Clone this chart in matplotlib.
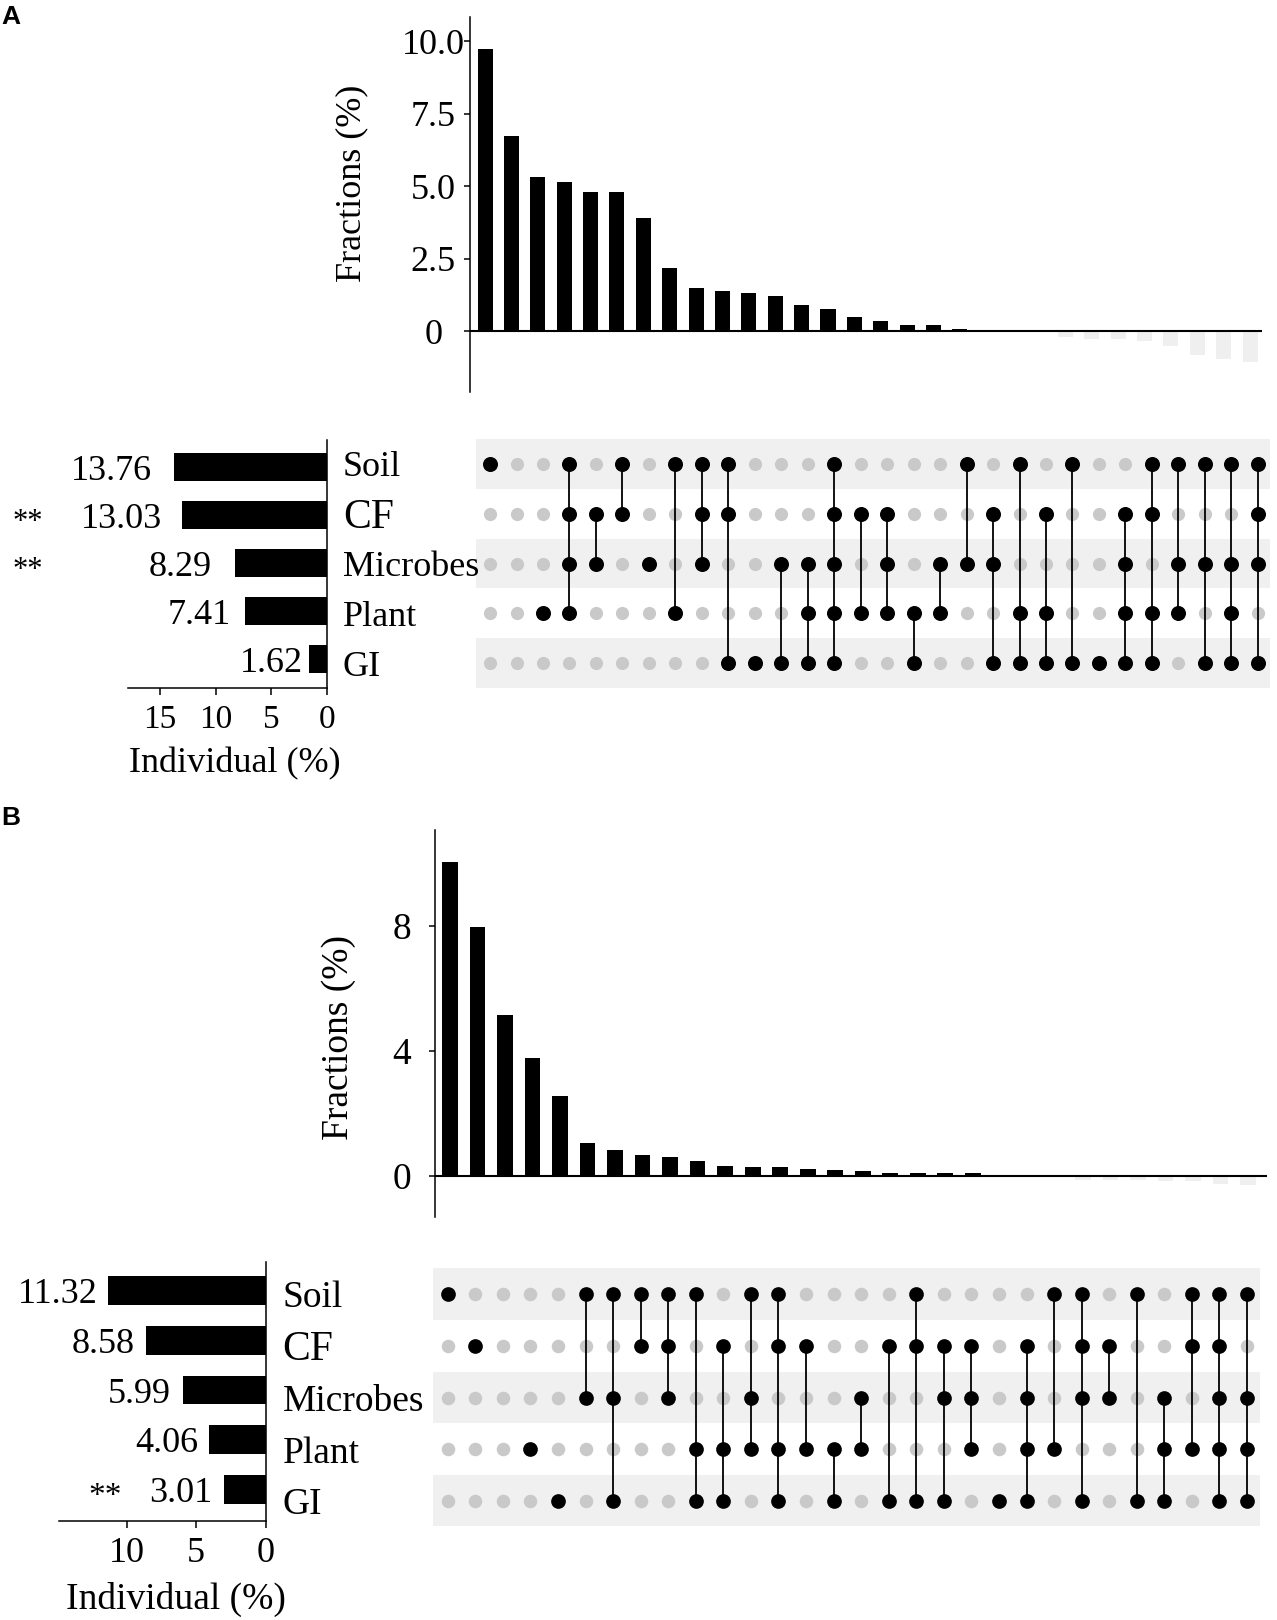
import numpy as np
import matplotlib
matplotlib.use("Agg")
import matplotlib.pyplot as plt
from matplotlib.transforms import blended_transform_factory

plt.rcParams['font.family'] = ['Liberation Serif', 'DejaVu Serif']

# ---- data -------------------------------------------------------------
sets = ["Soil", "CF", "Microbes", "Plant", "GI"]

# panel A
a_individual = [13.76, 13.03, 8.29, 7.41, 1.62]
a_signif = ["", "**", "**", "", ""]
a_fractions = [9.71, 6.71, 5.31, 5.13, 4.79, 4.79, 3.91, 2.17, 1.47, 1.37,
               1.32, 1.20, 0.91, 0.76, 0.48, 0.34, 0.22, 0.22, 0.06, 0.0,
               0.0, 0.0, -0.21, -0.26, -0.26, -0.34, -0.53, -0.84, -0.95, -1.05]
a_combos = ["Soil", "", "Plant", "Soil CF Microbes Plant", "CF Microbes",
            "Soil CF", "Microbes", "Soil Plant", "Soil CF Microbes", "Soil CF GI",
            "GI", "Microbes GI", "Microbes Plant GI", "Soil CF Microbes Plant GI",
            "CF Plant", "CF Microbes Plant", "Plant GI", "Microbes Plant",
            "Soil Microbes", "CF Microbes GI", "Soil Plant GI", "CF Plant GI",
            "Soil GI", "GI", "CF Microbes Plant GI", "Soil CF Plant GI",
            "Soil Microbes Plant", "Soil Microbes GI", "Soil Microbes Plant GI",
            "Soil CF Microbes GI"]

# panel B
b_individual = [11.32, 8.58, 5.99, 4.06, 3.01]
b_signif = ["", "", "", "", "**"]
b_fractions = [10.06, 7.98, 5.17, 3.78, 2.55, 1.06, 0.83, 0.69, 0.61, 0.47,
               0.33, 0.29, 0.29, 0.24, 0.20, 0.15, 0.11, 0.11, 0.10, 0.09,
               0.04, 0.0, 0.0, -0.11, -0.11, -0.14, -0.16, -0.16, -0.25, -0.30]
b_combos = ["Soil", "CF", "", "Plant", "GI", "Soil Microbes", "Soil Microbes GI",
            "Soil CF", "Soil CF Microbes", "Soil Plant GI", "CF Plant GI",
            "Soil Microbes Plant", "Soil CF Plant GI", "CF Plant", "Plant GI",
            "Microbes Plant", "CF GI", "Soil CF GI", "CF Microbes GI",
            "CF Microbes Plant", "GI", "CF Microbes Plant GI", "Soil Plant",
            "Soil CF Microbes GI", "CF Microbes", "Soil GI", "Microbes Plant GI",
            "Soil CF Plant", "Soil CF Microbes Plant GI", "Soil Microbes Plant GI"]

# ---- figure -----------------------------------------------------------
W, H = 1277, 1620
fig = plt.figure(figsize=(W / 100, H / 100), dpi=100)


def px_axes(left, top, right, bottom):
    return fig.add_axes([left / W, 1 - bottom / H, (right - left) / W, (bottom - top) / H])


def draw_fractions(ax, values, ticks, ticklabels, xlim, ylim, fs, pad, ylab_xy, ylab_fs):
    x = np.arange(len(values))
    colors = ["black" if v >= 0 else "#efefef" for v in values]
    ax.bar(x, values, width=0.57, color=colors, linewidth=0, zorder=1)
    ax.axhline(0, color="black", lw=1.5, zorder=2)
    ax.set_xlim(xlim)
    ax.set_ylim(ylim)
    for s in ["top", "right", "bottom"]:
        ax.spines[s].set_visible(False)
    ax.spines["left"].set_linewidth(1.1)
    ax.set_xticks([])
    ax.set_yticks(ticks)
    ax.set_yticklabels(ticklabels)
    ax.tick_params(axis="y", length=4.5, width=1.1, pad=pad, labelsize=fs)
    for t in ax.get_yticklabels():
        t.set_ha("center")
    ax.text(ylab_xy[0], ylab_xy[1], "Fractions (%)", transform=ax.transAxes,
            rotation=90, ha="center", va="center", fontsize=ylab_fs)


def draw_matrix(ax, combos, xlim, ylim, s_on, s_off):
    ncol = len(combos)
    member = np.array([[name in c.split() for c in combos] for name in sets])
    for r in range(len(sets)):
        if r % 2 == 0:
            ax.axhspan(r - 0.5, r + 0.5, color="#f0f0f0", lw=0, zorder=0)
    cols, rows = np.meshgrid(np.arange(ncol), np.arange(len(sets)))
    ax.scatter(cols[~member], rows[~member], s=s_off, color="#c9c9c9", lw=0, zorder=1)
    for c in range(ncol):
        active = np.where(member[:, c])[0]
        if len(active) > 1:
            ax.plot([c, c], [active.min(), active.max()], color="black", lw=1.3, zorder=2)
    ax.scatter(cols[member], rows[member], s=s_on, color="black", lw=0, zorder=3)
    ax.set_xlim(xlim)
    ax.set_ylim(ylim)
    ax.axis("off")


def draw_individual(ax, values, signif, gaps, xlim, ylim, ticks, tick_fs, tick_pad,
                    val_fs, star_x, star_fs, xlab_xy, xlab_fs):
    y = np.arange(len(values))
    ax.barh(y, values, height=0.58, color="black", lw=0)
    ax.set_xlim(xlim)
    ax.set_ylim(ylim)
    for s in ["top", "left"]:
        ax.spines[s].set_visible(False)
    for s in ["right", "bottom"]:
        ax.spines[s].set_linewidth(1.1)
    ax.set_yticks([])
    ax.set_xticks(ticks)
    ax.tick_params(axis="x", length=5, width=1.1, pad=tick_pad, labelsize=tick_fs)
    for i, v in enumerate(values):
        ax.annotate(f"{v:.2f}", (v, i), xytext=(-gaps[i] * 0.72, 0),
                    textcoords="offset points", ha="right", va="center_baseline",
                    fontsize=val_fs, annotation_clip=False)
        if signif[i]:
            ax.annotate(signif[i], (star_x, i), xycoords=(ax.transAxes, ax.transData),
                        xytext=(0, -3), textcoords="offset points", ha="center",
                        va="center_baseline", fontsize=star_fs, annotation_clip=False)
    ax.set_xlabel("Individual (%)", fontsize=xlab_fs)
    ax.xaxis.set_label_coords(*xlab_xy)


def draw_set_labels(ax_ind, ax_mat, pad_pt, fs, cf_fs):
    for r, name in enumerate(sets):
        ax_mat.annotate(name, (1, r), xycoords=(ax_ind.transAxes, ax_mat.transData),
                        xytext=(pad_pt, 0), textcoords="offset points", ha="left",
                        va="center_baseline", fontsize=cf_fs if name == "CF" else fs,
                        annotation_clip=False, zorder=5)


# ---- panel A ----------------------------------------------------------
axA_top = px_axes(470, 17, 1262, 392)
draw_fractions(axA_top, a_fractions, [0, 2.5, 5.0, 7.5, 10.0],
               ["0", "2.5", "5.0", "7.5", "10.0"], (-0.57, 29.45), (-2.1, 10.83),
               26, 22, (-0.149, 0.5565), 26)

axA_mat = px_axes(476, 439, 1270, 688)
draw_matrix(axA_mat, a_combos, (-0.53, 29.46), (4.5, -0.5), 117, 90)

axA_ind = px_axes(128, 440, 327, 688)
draw_individual(axA_ind, a_individual, a_signif, [22, 20, 23, 14, 6],
                (17.9, 0), (4.6, -0.5625), [15, 10, 5, 0], 24, 7, 26,
                -0.5025, 22, (0.538, -0.238), 26)
draw_set_labels(axA_ind, axA_mat, 11.5, 26, 30)

# ---- panel B ----------------------------------------------------------
axB_top = px_axes(435, 830, 1267, 1217)
draw_fractions(axB_top, b_fractions, [0, 4, 8], ["0", "4", "8"],
               (-0.545, 29.69), (-1.31, 11.08), 27, 19.5, (-0.1154, 0.4647), 27)

axB_mat = px_axes(433, 1267, 1260, 1526)
draw_matrix(axB_mat, b_combos, (-0.533, 29.47), (4.48, -0.52), 112, 95)

axB_ind = px_axes(59, 1262, 266, 1521)
draw_individual(axB_ind, b_individual, b_signif, [10, 12, 12, 11, 12],
                (14.85, 0), (4.633, -0.573), [10, 5, 0], 26, 6.5, 26,
                0.222, 24, (0.565, -0.2355), 27)
draw_set_labels(axB_ind, axB_mat, 12, 27, 30)

# panel letters
fig.text(1 / W, 1 - 5 / H, "A", fontsize=19, fontweight="bold",
         family="Liberation Sans", ha="left", va="top")
fig.text(1 / W, 1 - 806 / H, "B", fontsize=19, fontweight="bold",
         family="Liberation Sans", ha="left", va="top")

fig.savefig("out.png", dpi=100)
